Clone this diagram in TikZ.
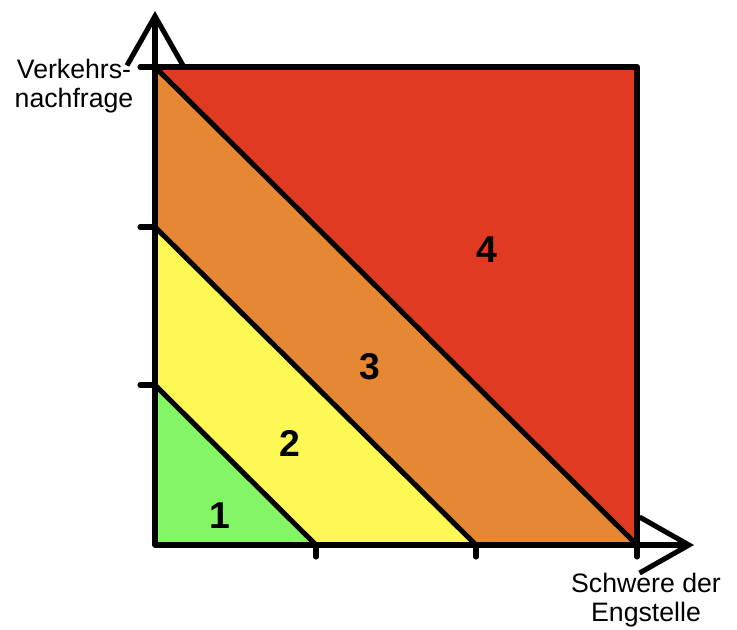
\documentclass[tikz,border=0pt]{standalone}
\usepackage{fontspec}
\setmainfont{Liberation Sans}
\usetikzlibrary{arrows.meta}
\definecolor{zonegreen}{RGB}{132,245,100}
\definecolor{zoneyellow}{RGB}{254,248,84}
\definecolor{zoneorange}{RGB}{230,136,51}
\definecolor{zonered}{RGB}{224,58,34}

\begin{document}
\begin{tikzpicture}[
  x=0.75pt, y=-0.75pt,
  edge/.style={line width=3.8pt, line cap=round, line join=round},
  axis/.style={edge, -{Straight Barb[length=37pt, width=42pt, line width=3.8pt]}},
  zone/.style={font=\fontsize{28}{30}\selectfont\bfseries},
  axlabel/.style={font=\fontsize{20}{22}\selectfont, align=center}
]
\useasboundingbox (0,0) rectangle (737,629);
% corners and band ends
\coordinate (O) at (155,545);
\coordinate (tl) at (155,67);
\coordinate (tr) at (637,67);
\coordinate (br) at (637,545);
\coordinate (y1) at (155,385);
\coordinate (y2) at (155,227);
\coordinate (x1) at (316,545);
\coordinate (x2) at (476,545);
\coordinate (ytip) at (155,11);
\coordinate (xtip) at (694,545);
% coloured zones
\fill[zonegreen] (O) -- (y1) -- (x1) -- cycle;
\fill[zoneyellow] (y1) -- (y2) -- (x2) -- (x1) -- cycle;
\fill[zoneorange] (y2) -- (tl) -- (br) -- (x2) -- cycle;
\fill[zonered] (tl) -- (tr) -- (br) -- cycle;
% borders
\draw[edge] (tl) -- (tr) -- (br);
\draw[edge] (y1) -- (x1);
\draw[edge] (y2) -- (x2);
\draw[edge] (tl) -- (br);
% ticks
\foreach \c in {y1,y2,tl} \draw[edge] (\c) -- ++(-15,0);
\foreach \c in {x1,x2,br} \draw[edge] (\c) -- ++(0,12);
% axes
\draw[axis] (O) -- (ytip);
\draw[axis] (O) -- (xtip);
% labels
\node[zone] (n1) at (220,516) {1};
\node[zone] (n2) at (290,443) {2};
\node[zone] (n3) at (370,367) {3};
\node[zone] (n4) at (487,250) {4};
\node[axlabel] (ylab) at (74,86) {Verkehrs-\\nachfrage};
\node[axlabel] (xlab) at (646,600) {Schwere der\\Engstelle};
\end{tikzpicture}
\end{document}
